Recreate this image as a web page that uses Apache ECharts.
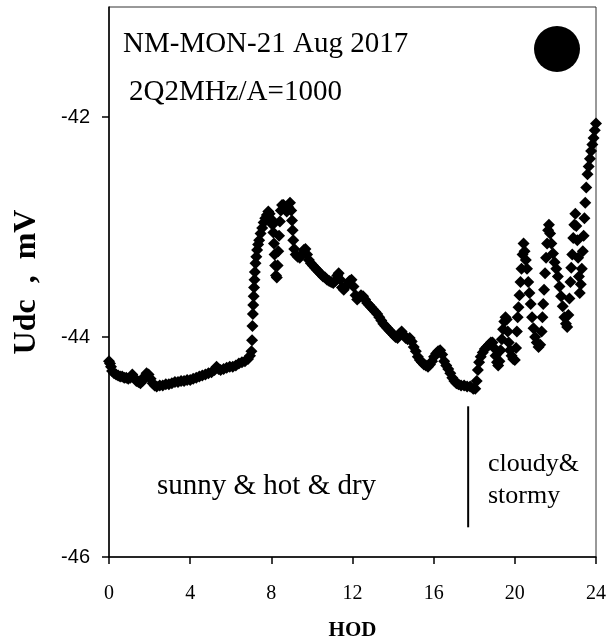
<!DOCTYPE html>
<html>
<head>
<meta charset="utf-8">
<title>NM-MON Udc</title>
<script src="https://cdn.jsdelivr.net/npm/echarts@6/dist/echarts.min.js"></script>
<style>
    html, body { margin: 0; padding: 0; background: #fff; }
    #chart { width: 610px; height: 642px; }
</style>
</head>
<body>
<div id="chart"></div>
<script>
// 时刻 (HOD)
const hod = [
    0.00, 0.05, 0.10, 0.15, 0.25, 0.35, 0.45, 0.55, 0.65, 0.75, 0.85, 0.95,
    1.05, 1.15, 1.25, 1.35, 1.45, 1.55, 1.65, 1.75, 1.85, 1.95,
    2.05, 2.15, 2.25, 2.35, 2.50, 2.65, 2.80, 2.95,
    3.10, 3.25, 3.40, 3.55, 3.70, 3.85, 4.00, 4.15, 4.30, 4.45, 4.60, 4.75, 4.90,
    5.05, 5.20, 5.30, 5.40, 5.50, 5.65, 5.80, 5.95,
    6.10, 6.25, 6.40, 6.55, 6.70, 6.85, 6.95,
    7.02, 7.05, 7.07, 7.09, 7.11, 7.13, 7.15, 7.17, 7.19, 7.22, 7.26, 7.30, 7.35, 7.40,
    7.47, 7.55, 7.62, 7.70, 7.78, 7.85, 7.92,
    8.00, 8.06, 8.10, 8.13, 8.16, 8.19, 8.23, 8.27, 8.31, 8.34, 8.38, 8.42, 8.47,
    8.53, 8.60, 8.68, 8.76, 8.84, 8.92, 8.98,
    9.02, 9.05, 9.08, 9.13, 9.20, 9.30, 9.40, 9.50, 9.60, 9.68, 9.76, 9.85, 9.95,
    10.05, 10.15, 10.25, 10.35, 10.45, 10.55, 10.65, 10.75, 10.85, 10.95,
    11.05, 11.15, 11.25, 11.32, 11.40, 11.48, 11.57, 11.66, 11.75, 11.85, 11.95,
    12.05, 12.15, 12.23, 12.32, 12.42, 12.52, 12.62, 12.72, 12.82, 12.92,
    13.02, 13.12, 13.22, 13.32, 13.42, 13.52, 13.62, 13.72, 13.82, 13.92,
    14.02, 14.12, 14.22, 14.32, 14.42, 14.52, 14.62, 14.72, 14.82, 14.92,
    15.02, 15.12, 15.22, 15.32, 15.42, 15.52, 15.62, 15.72, 15.82, 15.92,
    16.02, 16.12, 16.22, 16.32, 16.42, 16.52, 16.62, 16.72, 16.82, 16.92,
    17.02, 17.12, 17.22, 17.35, 17.50, 17.65, 17.80, 17.95,
    18.05, 18.12, 18.18, 18.24, 18.32, 18.42, 18.52, 18.62, 18.72, 18.82, 18.90, 18.98,
    19.05, 19.12, 19.18, 19.24, 19.30, 19.36, 19.42, 19.48, 19.54, 19.60, 19.65, 19.70,
    19.76, 19.84, 19.92,
    20.00, 20.06, 20.10, 20.14, 20.18, 20.23, 20.28, 20.33, 20.38, 20.43, 20.48, 20.54,
    20.60, 20.66, 20.72, 20.78, 20.85, 20.92,
    21.00, 21.08, 21.17, 21.25, 21.32, 21.36, 21.40, 21.44, 21.49, 21.54, 21.59, 21.64,
    21.68, 21.74, 21.80, 21.88, 21.96,
    22.04, 22.12, 22.20, 22.28, 22.36, 22.44, 22.52, 22.58, 22.64, 22.69, 22.74, 22.78,
    22.83, 22.88, 22.93, 22.98,
    23.03, 23.08, 23.12, 23.16, 23.20, 23.25, 23.30, 23.35, 23.39, 23.43, 23.47, 23.52,
    23.58, 23.64, 23.70, 23.76, 23.82, 23.88, 23.94, 24.00
];

// Udc, mV
const udc = [
    -44.22, -44.24, -44.27, -44.31, -44.33, -44.34, -44.35, -44.36, -44.36, -44.37, -44.37, -44.38,
    -44.37, -44.34, -44.37, -44.40, -44.41, -44.42, -44.40, -44.36, -44.33, -44.34,
    -44.38, -44.42, -44.44, -44.45, -44.44, -44.44, -44.43, -44.43,
    -44.42, -44.41, -44.41, -44.40, -44.40, -44.39, -44.39, -44.38, -44.37, -44.36, -44.35, -44.34, -44.33,
    -44.32, -44.30, -44.27, -44.29, -44.30, -44.29, -44.28, -44.27,
    -44.27, -44.26, -44.24, -44.23, -44.22, -44.20, -44.17,
    -44.13, -44.03, -43.90, -43.79, -43.71, -43.63, -43.55, -43.48, -43.41, -43.33, -43.27, -43.21, -43.16, -43.12,
    -43.06, -43.01, -42.96, -42.92, -42.89, -42.86, -42.88,
    -42.93, -42.98, -43.05, -43.15, -43.25, -43.35, -43.44, -43.46, -43.35, -43.22, -43.08, -42.95, -42.85,
    -42.80, -42.80, -42.84, -42.86, -42.82, -42.78, -42.85,
    -42.94, -43.03, -43.12, -43.20, -43.25, -43.27, -43.28, -43.25, -43.21, -43.20, -43.25, -43.30, -43.33,
    -43.35, -43.37, -43.39, -43.41, -43.43, -43.45, -43.46, -43.48, -43.49, -43.50,
    -43.51, -43.49, -43.44, -43.42, -43.48, -43.55, -43.57, -43.54, -43.52, -43.49, -43.48,
    -43.54, -43.62, -43.66, -43.64, -43.62, -43.63, -43.66, -43.69, -43.71, -43.73,
    -43.75, -43.77, -43.79, -43.82, -43.85, -43.88, -43.90, -43.92, -43.94, -43.96,
    -43.98, -44.00, -44.01, -43.97, -43.95, -43.98, -44.01, -44.02, -44.01, -44.04,
    -44.09, -44.13, -44.18, -44.21, -44.23, -44.25, -44.26, -44.27, -44.25, -44.22,
    -44.18, -44.15, -44.13, -44.12, -44.16, -44.22, -44.26, -44.29, -44.33, -44.37,
    -44.40, -44.42, -44.43, -44.44, -44.44, -44.45, -44.45, -44.47,
    -44.47, -44.40, -44.30, -44.23, -44.18, -44.14, -44.11, -44.09, -44.07, -44.05, -44.05, -44.10,
    -44.17, -44.23, -44.26, -44.22, -44.12, -44.02, -43.93, -43.86, -43.82, -43.84, -43.95, -44.05,
    -44.12, -44.17, -44.20,
    -44.21, -44.10, -43.95, -43.82, -43.73, -43.62, -43.50, -43.38, -43.25, -43.15, -43.22, -43.30,
    -43.38, -43.50, -43.60, -43.70, -43.82, -43.92,
    -44.00, -44.05, -44.09, -44.07, -43.95, -43.82, -43.70, -43.57, -43.42, -43.28, -43.15, -43.03,
    -42.98, -43.06, -43.15, -43.24, -43.32,
    -43.38, -43.45, -43.54, -43.63, -43.72, -43.82, -43.88, -43.91, -43.80, -43.65, -43.50, -43.37,
    -43.25, -43.10, -42.98, -42.88,
    -42.99, -43.12, -43.28, -43.45, -43.60, -43.52, -43.38, -43.22, -43.08, -42.92, -42.78, -42.64,
    -42.52, -42.45, -42.38, -42.31, -42.25, -42.19, -42.12, -42.06
];

// 天气分界线
const dividerHour = 17.7;
const dividerUdc = [-44.63, -45.73];

// 坐标轴刻度
const xTicks = [0, 4, 8, 12, 16, 20, 24];
const yTicks = [-46, -44, -42];

const SERIF = "'Liberation Serif', 'Times New Roman', serif";
const SANS = "'Liberation Sans', Arial, sans-serif";

const chart = echarts.init(document.getElementById('chart'));

chart.setOption({
    animation: false,
    backgroundColor: '#fff',
    grid: {
        left: 109, right: 14, top: 7, bottom: 85,
        outerBoundsMode: 'none',
        containLabel: false,
        show: true,
        borderColor: '#333',
        borderWidth: 1
    },
    xAxis: {
        type: 'value',
        min: xTicks[0],
        max: xTicks[xTicks.length - 1],
        interval: 4,
        name: 'HOD',
        nameLocation: 'middle',
        nameGap: 63,
        nameMoveOverlap: false,
        nameTextStyle: { fontFamily: SERIF, fontWeight: 'bold', fontSize: 21, color: '#000' },
        axisLine: { onZero: false, lineStyle: { color: '#000', width: 1.5 } },
        axisTick: { inside: false, length: 7, lineStyle: { color: '#000', width: 1.5 } },
        axisLabel: { margin: 27, fontFamily: SERIF, fontSize: 20, color: '#000' },
        splitLine: { show: false }
    },
    yAxis: {
        type: 'value',
        min: yTicks[0],
        max: -41,
        interval: 2,
        name: 'Udc  ,  mV',
        nameLocation: 'middle',
        nameGap: 66,
        nameMoveOverlap: false,
        nameRotate: 90,
        nameTextStyle: { fontFamily: SERIF, fontWeight: 'bold', fontSize: 32, color: '#000' },
        axisLine: { onZero: false, lineStyle: { color: '#000', width: 1.5 } },
        axisTick: { inside: false, length: 7, lineStyle: { color: '#000', width: 1.5 } },
        axisLabel: {
            margin: 19, fontFamily: SANS, fontSize: 20, color: '#000',
            showMaxLabel: false,
            formatter: v => (yTicks.indexOf(v) >= 0 ? String(v) : '')
        },
        splitLine: { show: false }
    },
    series: [
        {
            name: 'Udc',
            type: 'scatter',
            symbol: 'diamond',
            symbolSize: 12,
            itemStyle: { color: '#000', opacity: 1 },
            data: hod.map((h, i) => [h, udc[i]])
        },
        {
            name: 'divider',
            type: 'line',
            symbol: 'none',
            lineStyle: { color: '#000', width: 2 },
            data: dividerUdc.map(v => [dividerHour, v])
        }
    ],
    graphic: [
        {
            type: 'text', left: 123, top: 30,
            style: { text: 'NM-MON-21 Aug 2017', font: '29px ' + SERIF, fill: '#000' }
        },
        {
            type: 'text', left: 129, top: 78,
            style: { text: '2Q2MHz/A=1000', font: '29px ' + SERIF, fill: '#000' }
        },
        {
            type: 'circle', shape: { cx: 557, cy: 49, r: 23 },
            style: { fill: '#000' }
        },
        {
            type: 'text', left: 157, top: 472,
            style: { text: 'sunny & hot & dry', font: '29px ' + SERIF, fill: '#000' }
        },
        {
            type: 'text', left: 488, top: 448,
            style: { text: 'cloudy&\nstormy', font: '26px ' + SERIF, lineHeight: 32, fill: '#000' }
        }
    ]
});
</script>
</body>
</html>
